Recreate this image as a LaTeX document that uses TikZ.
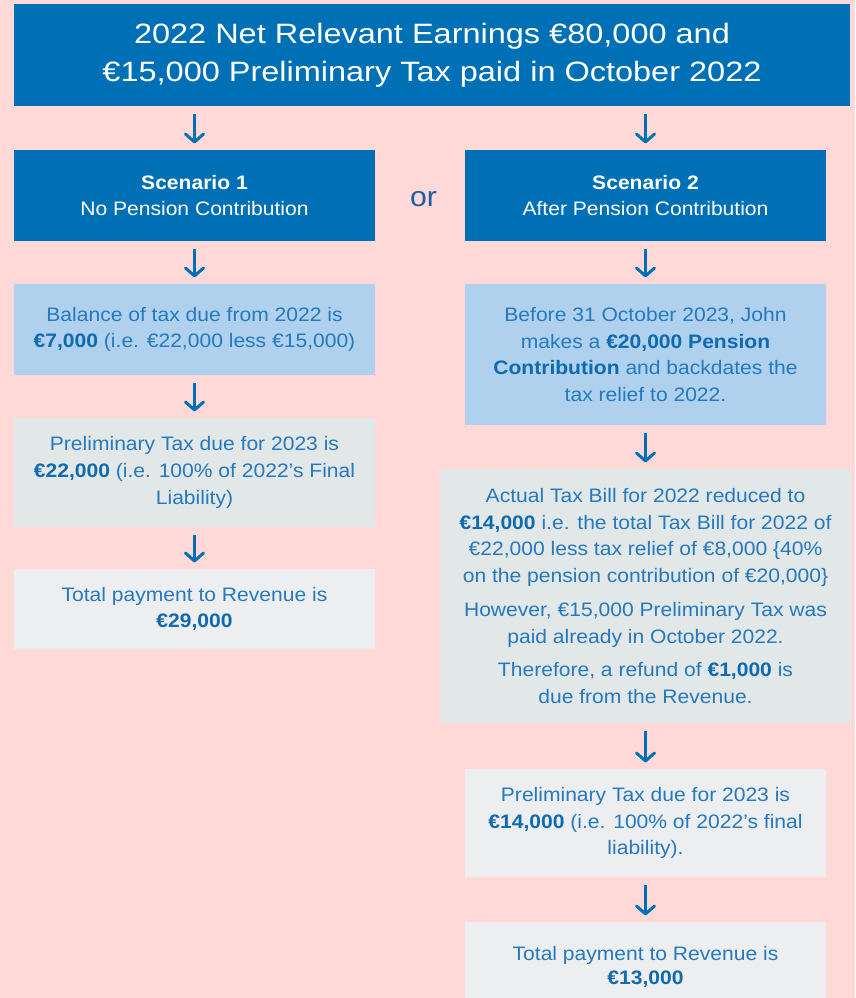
\documentclass[tikz,border=0pt]{standalone}
\usepackage{fontspec}
\setmainfont{Liberation Sans}[FakeStretch=1.08]
\newfontfamily\titlefont{Liberation Sans}[FakeStretch=1.16]
\usetikzlibrary{arrows.meta}

\definecolor{bgpink}{HTML}{FFD9D8}
\definecolor{darkblue}{HTML}{0070B6}
\definecolor{paleblue}{HTML}{AFD1EE}
\definecolor{midgrey}{HTML}{E2E7E8}
\definecolor{lightgrey}{HTML}{ECEEF0}
\definecolor{textblue}{HTML}{2579BE}
\definecolor{boldblue}{HTML}{0F6AAF}
\definecolor{orblue}{HTML}{1E5DA3}

\newcommand{\amt}[1]{{\bfseries\color{boldblue}#1}}

\begin{document}
\begin{tikzpicture}[x=1pt, y=-1pt, line width=3pt,
    box/.style={inner sep=0pt, align=center, text=textblue,
                font=\fontsize{19.5}{26.7}\selectfont},
    head/.style={box, fill=darkblue, text=white, minimum width=361pt, minimum height=91pt},
    step1/.style={box, fill=paleblue, minimum width=361pt},
    step2/.style={box, fill=midgrey, minimum width=361pt},
    step3/.style={box, fill=lightgrey, minimum width=361pt},
    flow/.style={draw=darkblue, -{Straight Barb[length=8pt, width=18pt, round]},
                 shorten <=6pt, shorten >=5pt}]
    % Page
    \useasboundingbox (0,0) rectangle (855,998);
    \clip (0,0) rectangle (855,998);
    \fill[bgpink] (0,0) rectangle (855,998);

    % Title
    \node[box, fill=darkblue, text=white, minimum width=836pt, minimum height=102pt,
          font=\titlefont\fontsize{28}{38}\selectfont] (title) at (432,55)
        {2022 Net Relevant Earnings €80,000 and\\ €15,000 Preliminary Tax paid in October 2022};

    % Scenario 1
    \node[head] (s1) at (194.5,195.5) {\textbf{Scenario 1}\\ No Pension Contribution};
    \node[step1, minimum height=91pt] (bal) at (194.5,329.5)
        {Balance of tax due from 2022 is\\ \amt{€7,000} (i.e. €22,000 less €15,000)};
    \node[step2, minimum height=109pt] (pre1) at (194.5,472.5)
        {Preliminary Tax due for 2023 is\\ \amt{€22,000} (i.e. 100\% of 2022’s Final\\ Liability)};
    \node[step3, minimum height=80pt] (tot1) at (194.5,609)
        {Total payment to Revenue is\\ \amt{€29,000}};

    \node[text=orblue, font=\fontsize{28}{34}\selectfont, anchor=base] (or) at (423.5,206) {or};

    % Scenario 2
    \node[head] (s2) at (645.5,195.5) {\textbf{Scenario 2}\\ After Pension Contribution};
    \node[step1, minimum height=141pt] (john) at (645.5,354.5)
        {Before 31 October 2023, John\\ makes a \amt{€20,000 Pension}\\ \amt{Contribution} and backdates the\\ tax relief to 2022.};
    \node[step2, minimum width=411pt, minimum height=254pt] (bill) at (645.5,596)
        {Actual Tax Bill for 2022 reduced to\\ \amt{€14,000} i.e. the total Tax Bill for 2022 of\\
         €22,000 less tax relief of €8,000 \{40\%\\ on the pension contribution of €20,000\}\\[7pt]
         However, €15,000 Preliminary Tax was\\ paid already in October 2022.\\[7pt]
         Therefore, a refund of \amt{€1,000} is\\ due from the Revenue.};
    \node[step3, minimum height=108pt] (pre2) at (645.5,823)
        {Preliminary Tax due for 2023 is\\ \amt{€14,000} (i.e. 100\% of 2022’s final\\ liability).};
    \node[step3, minimum height=90pt, font=\fontsize{19.5}{24}\selectfont] (tot2) at (645.5,967)
        {Total payment to Revenue is\\ \amt{€13,000}};

    % Arrows
    \draw[flow] (title.south -| s1.north) -- (s1.north);
    \draw[flow] (title.south -| s2.north) -- (s2.north);
    \draw[flow] (s1) -- (bal);
    \draw[flow] (bal) -- (pre1);
    \draw[flow] (pre1) -- (tot1);
    \draw[flow] (s2) -- (john);
    \draw[flow] (john) -- (bill);
    \draw[flow] (bill) -- (pre2);
    \draw[flow] (pre2) -- (tot2);
\end{tikzpicture}
\end{document}
